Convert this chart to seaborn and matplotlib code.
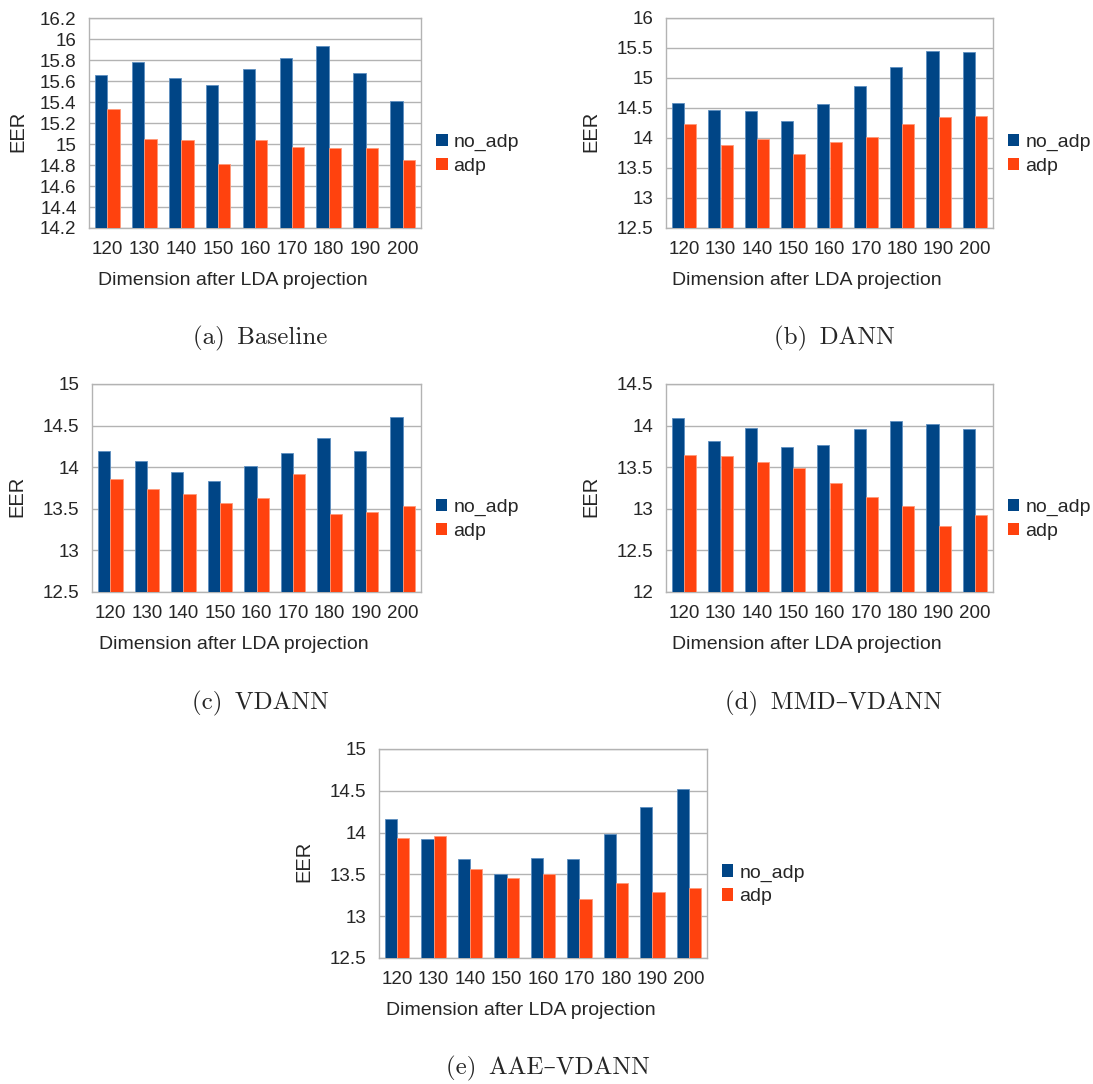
import numpy as np
import pandas as pd
import matplotlib
matplotlib.use("Agg")
import matplotlib.pyplot as plt
import seaborn as sns
from matplotlib.patches import Patch

dims = ["120", "130", "140", "150", "160", "170", "180", "190", "200"]
series_names = ["no_adp", "adp"]

baseline_no_adp = [15.66, 15.78, 15.63, 15.56, 15.71, 15.82, 15.93, 15.68, 15.41]
baseline_adp = [15.33, 15.05, 15.04, 14.81, 15.04, 14.97, 14.96, 14.96, 14.85]

dann_no_adp = [14.58, 14.46, 14.45, 14.29, 14.56, 14.87, 15.18, 15.45, 15.44]
dann_adp = [14.23, 13.88, 13.98, 13.73, 13.93, 14.02, 14.23, 14.35, 14.37]

vdann_no_adp = [14.19, 14.08, 13.94, 13.84, 14.02, 14.17, 14.35, 14.19, 14.60]
vdann_adp = [13.86, 13.74, 13.68, 13.57, 13.63, 13.92, 13.44, 13.46, 13.53]

mmd_no_adp = [14.09, 13.82, 13.97, 13.74, 13.77, 13.96, 14.06, 14.02, 13.96]
mmd_adp = [13.65, 13.63, 13.56, 13.49, 13.31, 13.14, 13.03, 12.79, 12.92]

aae_no_adp = [14.16, 13.92, 13.68, 13.51, 13.70, 13.69, 13.98, 14.31, 14.52]
aae_adp = [13.93, 13.96, 13.56, 13.46, 13.50, 13.20, 13.40, 13.29, 13.34]

captions = ["(a)\u2002Baseline", "(b)\u2002DANN", "(c)\u2002VDANN",
            "(d)\u2002MMD\u2013VDANN", "(e)\u2002AAE\u2013VDANN"]
ylims = [(14.2, 16.2, 0.2), (12.5, 16.0, 0.5), (12.5, 15.0, 0.5), (12.0, 14.5, 0.5), (12.5, 15.0, 0.5)]
xlabel_text = "Dimension after LDA projection"
ylabel_text = "EER"

colors = ["#004586", "#ff420e"]
edge_colors = ["#5d8fc0", "#ff9a7a"]

W, H = 1093, 1084
# axes boxes in pixels: left, top, right, bottom
boxes = [
    (89, 18, 421, 228),
    (666, 18, 993, 228),
    (92, 384, 421, 592),
    (666, 384, 993, 592),
    (379, 749, 707, 958),
]
ylabel_x = [-0.187, -0.202, -0.198, -0.202, -0.201]
caption_pos = [(260, 338), (834, 338), (260, 703), (834, 703), (548, 1068)]

sns.set_style("white")
plt.rcParams["font.family"] = ["Liberation Sans", "DejaVu Sans"]

fig = plt.figure(figsize=(W / 100, H / 100), dpi=100)

all_data = [
    (baseline_no_adp, baseline_adp),
    (dann_no_adp, dann_adp),
    (vdann_no_adp, vdann_adp),
    (mmd_no_adp, mmd_adp),
    (aae_no_adp, aae_adp),
]

grid_col = "#b3b3b3"
fs = 13.5

for i, ((a, b), box, (lo, hi, step)) in enumerate(zip(all_data, boxes, ylims)):
    l, t, r, btm = box
    ax = fig.add_axes([l / W, 1 - btm / H, (r - l) / W, (btm - t) / H])
    df = pd.DataFrame({
        "dim": dims * 2,
        "EER": list(a) + list(b),
        "series": [series_names[0]] * len(dims) + [series_names[1]] * len(dims),
    })
    sns.barplot(data=df, x="dim", y="EER", hue="series", order=dims,
                hue_order=series_names, palette=colors, saturation=1, width=0.67,
                ax=ax, legend=False, zorder=3)
    for j, cont in enumerate(ax.containers):
        for p in cont:
            p.set_edgecolor(edge_colors[j])
            p.set_linewidth(0.6)
    ax.set_ylim(lo, hi)
    ax.set_xlim(-0.5, len(dims) - 0.5)
    yt = np.arange(lo, hi + step / 2, step)
    ax.set_yticks(yt)
    ax.set_yticklabels(["%g" % round(v, 2) for v in yt], fontsize=fs)
    ax.set_xticks(range(len(dims)))
    ax.set_xticklabels(dims, fontsize=fs)
    ax.set_xticks(np.arange(-0.5, len(dims)), minor=True)
    ax.tick_params(axis="x", which="major", length=0, pad=9)
    ax.tick_params(axis="x", which="minor", length=5, color=grid_col, width=1)
    ax.tick_params(axis="y", length=4, color=grid_col, pad=5)
    ax.yaxis.grid(True, color=grid_col, linewidth=1, zorder=0)
    ax.set_axisbelow(True)
    for s in ax.spines.values():
        s.set_visible(True)
        s.set_color(grid_col)
        s.set_linewidth(1)
    ax.set_xlabel(xlabel_text, fontsize=14)
    ax.xaxis.set_label_coords(0.432, -0.21)
    ax.set_ylabel(ylabel_text, fontsize=14.5)
    ax.yaxis.set_label_coords(ylabel_x[i], 0.46)
    handles = [Patch(facecolor=c, edgecolor="none") for c in colors]
    ax.legend(handles, series_names, loc="center left", bbox_to_anchor=(1.045, 0.35),
              frameon=False, fontsize=14, handlelength=0.6, handleheight=0.6,
              handletextpad=0.3, labelspacing=0.35, borderpad=0, borderaxespad=0)
    cx, cy = caption_pos[i]
    fig.text(cx / W, 1 - cy / H, captions[i], ha="center", va="center",
             fontsize=18, family=["cmr10", "DejaVu Serif"])

fig.savefig("out.png", dpi=100)
